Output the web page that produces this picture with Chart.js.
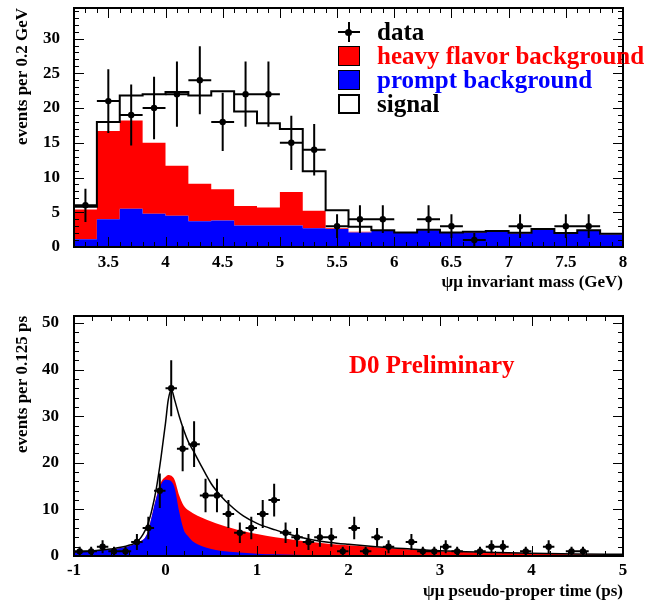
<!DOCTYPE html>
<html lang="en">
<head>
<meta charset="UTF-8">
<title>ψμ invariant mass and pseudo-proper time</title>
<script src="https://cdn.jsdelivr.net/npm/chart.js"></script>
<style>
  body { margin: 0; background: #fff; font-family: 'Liberation Serif', 'Times New Roman', serif; }
  .panel { position: relative; width: 645px; }
  #topPanel { height: 300px; }
  #bottomPanel { height: 302px; }
  canvas { display: block; }
  .legend { position: absolute; left: 338px; top: 20px; font-weight: bold; font-size: 25px; }
  .legend .row { position: relative; height: 24px; line-height: 24px; padding-left: 39px; white-space: nowrap; }
  .legend .box { position: absolute; left: 0; top: 2px; width: 22px; height: 20px; box-sizing: border-box; border: 1.5px solid #000; }
  .legend .hline { position: absolute; left: 0; top: 11px; width: 22px; height: 2px; background: #000; }
  .legend .vline { position: absolute; left: 10px; top: 2px; width: 2px; height: 20px; background: #000; }
  .legend .dot { position: absolute; left: 7px; top: 8.5px; width: 7px; height: 7px; border-radius: 50%; background: #000; }
  .prelim { position: absolute; left: 349px; top: 50px; color: #ff0000; font-weight: bold; font-size: 25px; line-height: 30px; white-space: nowrap; }
</style>
</head>
<body>
<div class="panel" id="topPanel">
  <canvas id="massChart" width="645" height="300"></canvas>
  <div class="legend">
    <div class="row"><span class="hline"></span><span class="vline"></span><span class="dot"></span>data</div>
    <div class="row" style="color:#ff0000"><span class="box" style="background:#ff0000"></span>heavy flavor background</div>
    <div class="row" style="color:#0000ff"><span class="box" style="background:#0000ff"></span>prompt background</div>
    <div class="row"><span class="box" style="background:#fff;border-width:2px"></span>signal</div>
  </div>
</div>
<div class="panel" id="bottomPanel">
  <canvas id="timeChart" width="645" height="302"></canvas>
  <div class="prelim">D0 Preliminary</div>
</div>

<script>
// ---- top panel: psi-mu invariant mass, 0.2 GeV bins ----
const massEdges = [3.2, 3.4, 3.6, 3.8, 4.0, 4.2, 4.4, 4.6, 4.8, 5.0, 5.2, 5.4, 5.6, 5.8, 6.0, 6.2, 6.4, 6.6, 6.8, 7.0, 7.2, 7.4, 7.6, 7.8, 8.0];
const promptMass = [1.1, 4.0, 5.5, 4.8, 4.5, 3.7, 3.8, 3.1, 3.1, 3.1, 2.7, 2.6, 2.1, 2.3, 2.0, 2.4, 2.0, 2.1, 2.2, 1.95, 2.5, 1.9, 2.3, 1.8];
const heavyMass = [4.3, 12.7, 12.7, 10.2, 7.2, 5.4, 4.5, 2.8, 2.6, 4.8, 2.5, 0.1, 0.1, 0.05, 0.05, 0.05, 0.05, 0.05, 0.05, 0.05, 0.05, 0.05, 0.05, 0.05];
const signalMass = [0.4, 1.3, 3.6, 7.0, 10.6, 12.7, 14.1, 13.6, 12.1, 9.1, 5.7, 2.6, 0.7, 0.05, 0.05, 0.05, 0.05, 0.05, 0.05, 0.05, 0.05, 0.05, 0.05, 0.05];

const massCenters = [3.3, 3.5, 3.7, 3.9, 4.1, 4.3, 4.5, 4.7, 4.9, 5.1, 5.3, 5.5, 5.7, 5.9, 6.3, 6.5, 6.7, 7.1, 7.5, 7.7];
const massCounts = [6, 21, 19, 20, 22, 24, 18, 22, 22, 15, 14, 3, 4, 4, 4, 3, 1, 3, 3, 3];
const massErrors = [2.4, 4.6, 4.4, 4.5, 4.7, 4.9, 4.2, 4.7, 4.7, 3.9, 3.7, 1.7, 2, 2, 2, 1.7, 1, 1.7, 1.7, 1.7];

const massTicks = [3.5, 4, 4.5, 5, 5.5, 6, 6.5, 7, 7.5, 8];
const massCountTicks = [0, 5, 10, 15, 20, 25, 30];

// ---- bottom panel: pseudo-proper time, 0.125 ps bins ----
const timeCenters = [-0.9375, -0.8125, -0.6875, -0.5625, -0.4375, -0.3125, -0.1875, -0.0625, 0.0625, 0.1875,
  0.3125, 0.4375, 0.5625, 0.6875, 0.8125, 0.9375, 1.0625, 1.1875, 1.3125, 1.4375,
  1.5625, 1.6875, 1.8125, 1.9375, 2.0625, 2.1875, 2.3125, 2.4375, 2.6875, 2.8125,
  2.9375, 3.0625, 3.1875, 3.4375, 3.5625, 3.6875, 3.9375, 4.1875, 4.4375, 4.5625];
const timeCounts = [1, 1, 2, 1, 1, 3, 6, 14, 36, 23,
  24, 13, 13, 9, 5, 6, 9, 12, 5, 4,
  3, 4, 4, 1, 6, 1, 4, 2, 3, 1,
  1, 2, 1, 1, 2, 2, 1, 2, 1, 1];
const timeErrors = [1, 1, 1.4, 1, 1, 1.7, 2.4, 3.7, 6, 4.8,
  4.9, 3.6, 3.6, 3, 2.2, 2.4, 3, 3.5, 2.2, 2,
  1.7, 2, 2, 1, 2.4, 1, 2, 1.4, 1.7, 1,
  1, 1.4, 1, 1, 1.4, 1.4, 1, 1.4, 1, 1];

// fit curves
const curveTimes = [-1, -0.8, -0.6, -0.4, -0.3, -0.2, -0.15, -0.1, -0.05, 0, 0.03, 0.065, 0.1, 0.15, 0.2, 0.25, 0.3, 0.4, 0.5, 0.6,
  0.7, 0.85, 1.0, 1.2, 1.4, 1.6, 1.8, 2.0, 2.3, 2.6, 3.0, 3.5, 4.0, 4.5, 5.0];
const promptCurve = [0.7, 1.0, 1.4, 2.1, 2.9, 4.8, 8.5, 12.5, 15.3, 16.4, 16.3, 16.0, 14.6, 9.5, 5.6, 4.2, 3.1, 2.1, 1.5, 1.1,
  0.9, 0.7, 0.5, 0.35, 0.25, 0.2, 0.15, 0.1, 0.08, 0.06, 0.05, 0.04, 0.03, 0.02, 0.02];
const backgroundCurve = [0.7, 1.0, 1.4, 2.1, 2.9, 4.8, 8.5, 12.6, 15.8, 17.0, 17.4, 17.2, 16.3, 13.0, 10.8, 9.8, 9.2, 8.2, 7.4, 6.7,
  6.1, 5.3, 4.7, 4.0, 3.5, 3.0, 2.6, 2.3, 1.9, 1.5, 1.0, 0.75, 0.55, 0.4, 0.3];
const totalCurve = [0.8, 1.1, 1.5, 2.3, 3.2, 6.5, 9.8, 14.5, 21, 28.5, 33.5, 35.7, 33.5, 30, 27, 24.5, 22.7, 19, 15.5, 13,
  11, 8.6, 7, 5.6, 4.4, 3.5, 2.9, 2.5, 2.0, 1.6, 1.1, 0.8, 0.6, 0.45, 0.35];

const timeTicks = [-1, 0, 1, 2, 3, 4, 5];
const timeCountTicks = [0, 10, 20, 30, 40, 50];

const RED = '#ff0000';
const BLUE = '#0000ff';
const FONT = "'Liberation Serif', 'Times New Roman', serif";

// step histogram points: one per lower edge, last value repeated at the upper edge
function histPoints(values) {
  const pts = values.map((v, i) => ({ x: massEdges[i], y: v }));
  pts.push({ x: massEdges[values.length], y: values[values.length - 1] });
  return pts;
}

// ROOT-style frame with inward ticks on all four sides
const frameTicks = {
  id: 'frameTicks',
  afterDatasetsDraw(chart, args, opts) {
    const { ctx, chartArea: a, scales: { x, y } } = chart;
    ctx.save();
    ctx.strokeStyle = '#000';
    ctx.lineWidth = 1;
    ctx.beginPath();
    const minors = (min, max, step) => {
      const out = [];
      for (let n = Math.ceil(min / step - 1e-9); n <= Math.floor(max / step + 1e-9); n++) out.push(n * step);
      return out;
    };
    const tickX = (v, len) => {
      const px = Math.round(x.getPixelForValue(v)) + 0.5;
      ctx.moveTo(px, a.bottom); ctx.lineTo(px, a.bottom - len);
      ctx.moveTo(px, a.top); ctx.lineTo(px, a.top + len);
    };
    const tickY = (v, len) => {
      const py = Math.round(y.getPixelForValue(v)) + 0.5;
      ctx.moveTo(a.left, py); ctx.lineTo(a.left + len, py);
      ctx.moveTo(a.right, py); ctx.lineTo(a.right - len, py);
    };
    minors(x.min, x.max, opts.xMinor).forEach(v => tickX(v, 5));
    minors(y.min, y.max, opts.yMinor).forEach(v => tickY(v, 5));
    x.ticks.forEach(t => tickX(t.value, 10));
    y.ticks.forEach(t => tickY(t.value, 10));
    ctx.stroke();
    ctx.lineWidth = 2;
    ctx.strokeRect(a.left, a.top, a.right - a.left, a.bottom - a.top);
    ctx.restore();
  }
};

// error bars for datasets carrying yErr / xErr
const errorBars = {
  id: 'errorBars',
  afterDatasetsDraw(chart) {
    const { ctx, chartArea: a, scales: { x, y } } = chart;
    chart.data.datasets.forEach(ds => {
      if (!ds.yErr) return;
      ctx.save();
      ctx.beginPath();
      ctx.rect(a.left, a.top, a.right - a.left, a.bottom - a.top);
      ctx.clip();
      ctx.strokeStyle = '#000';
      ctx.lineWidth = 2;
      ctx.beginPath();
      ds.data.forEach((p, i) => {
        const px = x.getPixelForValue(p.x);
        const py = y.getPixelForValue(p.y);
        ctx.moveTo(px, y.getPixelForValue(p.y - ds.yErr[i]));
        ctx.lineTo(px, y.getPixelForValue(p.y + ds.yErr[i]));
        ctx.moveTo(x.getPixelForValue(p.x - ds.xErr), py);
        ctx.lineTo(x.getPixelForValue(p.x + ds.xErr), py);
      });
      ctx.stroke();
      ctx.restore();
    });
  }
};

const tickFont = { family: FONT, size: 17, weight: 'bold' };
const titleFont = { family: FONT, size: 17, weight: 'bold' };

function axes(cfg) {
  return {
    x: {
      type: 'linear',
      min: cfg.xMin, max: cfg.xMax,
      grid: { display: false, drawTicks: false },
      border: { display: false },
      ticks: { font: tickFont, color: '#000', padding: cfg.xPad, maxRotation: 0, autoSkip: false, callback: v => v },
      afterBuildTicks: s => { s.ticks = cfg.xTicks.map(v => ({ value: v })); },
      afterFit: s => { s.height = cfg.xHeight; s.paddingLeft = 0; s.paddingRight = 0; },
      title: { display: true, text: cfg.xTitle, align: 'end', font: titleFont, color: '#000', padding: { top: 0, bottom: cfg.xTitlePad } }
    },
    y: {
      type: 'linear',
      stacked: cfg.stacked,
      min: 0, max: cfg.yMax,
      grid: { display: false, drawTicks: false },
      border: { display: false },
      ticks: { font: tickFont, color: '#000', padding: cfg.yPad },
      afterBuildTicks: s => { s.ticks = cfg.yTicks.map(v => ({ value: v })); },
      afterFit: s => { s.width = 74; s.paddingTop = 0; s.paddingBottom = 0; },
      title: { display: true, text: cfg.yTitle, align: 'end', font: titleFont, color: '#000', padding: { top: 12, bottom: 0 } }
    }
  };
}

new Chart(document.getElementById('massChart'), {
  type: 'line',
  data: {
    datasets: [
      {
        label: 'prompt background', stack: 'hist', order: 1,
        data: histPoints(promptMass), stepped: true, fill: 'origin',
        backgroundColor: BLUE, borderColor: BLUE, borderWidth: 0, pointRadius: 0
      },
      {
        label: 'heavy flavor background', stack: 'hist', order: 2,
        data: histPoints(heavyMass), stepped: true, fill: '-1',
        backgroundColor: RED, borderColor: RED, borderWidth: 0, pointRadius: 0
      },
      {
        label: 'signal', stack: 'hist', order: 3,
        data: histPoints(signalMass), stepped: true, fill: false,
        borderColor: '#000', borderWidth: 2, pointRadius: 0
      },
      {
        label: 'data', type: 'scatter', stack: 'data', order: 0,
        data: massCenters.map((m, i) => ({ x: m, y: massCounts[i] })),
        yErr: massErrors, xErr: 0.1,
        pointRadius: 3.2, pointBackgroundColor: '#000', pointBorderWidth: 0
      }
    ]
  },
  options: {
    responsive: false,
    animation: false,
    events: [],
    layout: { padding: { top: 8, right: 22, left: 0, bottom: 0 } },
    plugins: {
      legend: { display: false },
      tooltip: { enabled: false },
      filler: { drawTime: 'beforeDatasetsDraw' },
      frameTicks: { xMinor: 0.1, yMinor: 1 }
    },
    scales: axes({
      xMin: 3.2, xMax: 8, xTicks: massTicks, xHeight: 53, xPad: 5, xTitlePad: 7,
      xTitle: 'ψμ invariant mass (GeV)',
      yMax: 34.4, yTicks: massCountTicks, yPad: 14, stacked: true,
      yTitle: 'events per 0.2 GeV'
    })
  },
  plugins: [frameTicks, errorBars]
});

new Chart(document.getElementById('timeChart'), {
  type: 'line',
  data: {
    datasets: [
      {
        label: 'data', type: 'scatter', order: 0,
        data: timeCenters.map((t, i) => ({ x: t, y: timeCounts[i] })),
        yErr: timeErrors, xErr: 0.0625,
        pointRadius: 3.2, pointBackgroundColor: '#000', pointBorderWidth: 0
      },
      {
        label: 'total fit', order: 1,
        data: curveTimes.map((t, i) => ({ x: t, y: totalCurve[i] })),
        cubicInterpolationMode: 'monotone', fill: false,
        borderColor: '#000', borderWidth: 1.5, pointRadius: 0
      },
      {
        label: 'prompt background', order: 2,
        data: curveTimes.map((t, i) => ({ x: t, y: promptCurve[i] })),
        cubicInterpolationMode: 'monotone', fill: 'origin',
        backgroundColor: BLUE, borderColor: BLUE, borderWidth: 0, pointRadius: 0
      },
      {
        label: 'heavy flavor background', order: 3,
        data: curveTimes.map((t, i) => ({ x: t, y: backgroundCurve[i] })),
        cubicInterpolationMode: 'monotone', fill: 'origin',
        backgroundColor: RED, borderColor: RED, borderWidth: 0, pointRadius: 0
      }
    ]
  },
  options: {
    responsive: false,
    animation: false,
    events: [],
    layout: { padding: { top: 16, right: 22, left: 0, bottom: 0 } },
    plugins: {
      legend: { display: false },
      tooltip: { enabled: false },
      frameTicks: { xMinor: 0.2, yMinor: 2 }
    },
    scales: axes({
      xMin: -1, xMax: 5, xTicks: timeTicks, xHeight: 46, xPad: 4, xTitlePad: 0,
      xTitle: 'ψμ pseudo-proper time (ps)',
      yMax: 51.5, yTicks: timeCountTicks, yPad: 15, stacked: false,
      yTitle: 'events per 0.125 ps'
    })
  },
  plugins: [frameTicks, errorBars]
});
</script>
</body>
</html>
